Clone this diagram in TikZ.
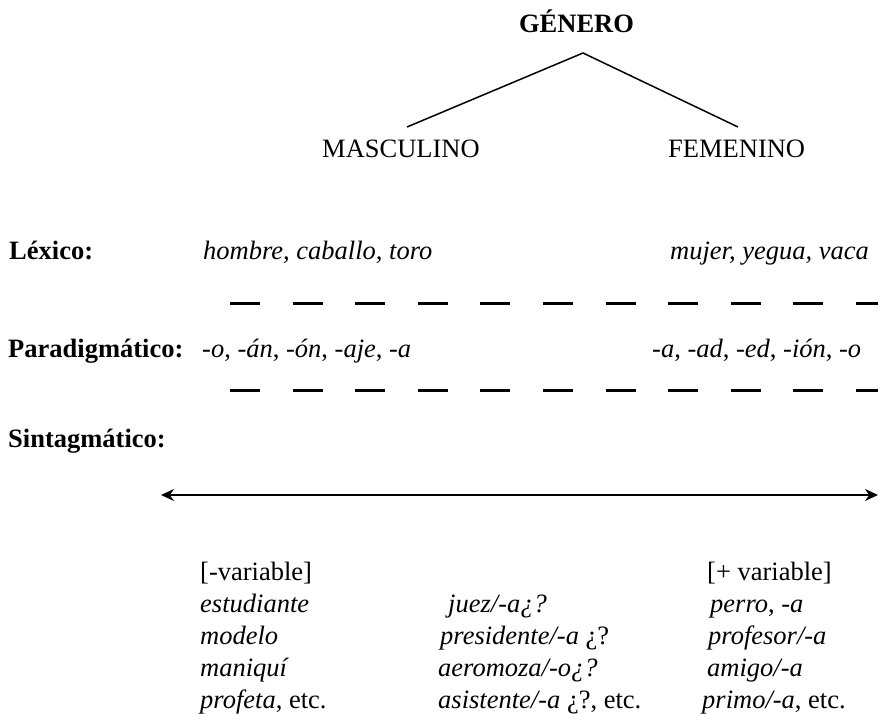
\documentclass[tikz,border=0pt]{standalone}
\usepackage{fontspec}
\setmainfont{Liberation Serif}[
    BoldFont={Liberation Serif Bold},
    ItalicFont={Liberation Serif Italic},
    BoldItalicFont={Liberation Serif Bold Italic}]
\usetikzlibrary{arrows.meta}

\begin{document}
\begin{tikzpicture}[x=1pt, y=-1pt]
\useasboundingbox (0,0) rectangle (878,714);
\begin{scope}[every node/.style={inner sep=0pt, anchor=base west, font=\fontsize{26.5}{30}\selectfont}]
    \node (genero) at (576.5, 33) [anchor=base] {\textbf{GÉNERO}};
    \node (masc) at (322, 158) {MASCULINO};
    \node (fem) at (668, 158) {FEMENINO};

    \node (lexico) at (9, 259) {\textbf{Léxico:}};
    \node (lexM) at (203, 259) {\textit{hombre, caballo, toro}};
    \node (lexF) at (670, 259) {\textit{mujer, yegua, vaca}};

    \node (parad) at (8, 357) {\textbf{Paradigmático:}};
    \node (parM) at (202, 357) {\textit{-o}, \textit{-án}, \textit{-ón}, \textit{-aje}, \textit{-a}};
    \node (parF) at (652, 357) {\textit{-a}, \textit{-ad}, \textit{-ed}, \textit{-ión}, \textit{-o}};

    \node (sintag) at (8, 447) {\textbf{Sintagmático:}};

    \node (menos) at (200, 580) {[-variable]};
    \node (mas) at (707, 580) {[+ variable]};

    \node (l1) at (200, 612) {\textit{estudiante}};
    \node (l2) at (200, 644) {\textit{modelo}};
    \node (l3) at (200, 676) {\textit{maniquí}};
    \node (l4) at (200, 708) {\textit{profeta}, etc.};

    \node (m1) at (448, 612) {\textit{juez/-a¿?}};
    \node (m2) at (440, 644) {\textit{presidente/-a} ¿?};
    \node (m3) at (438, 676) {\textit{aeromoza/-o¿?}};
    \node (m4) at (438, 708) {\textit{asistente/-a} ¿?, etc.};

    \node (r1) at (710, 612) {\textit{perro}, \textit{-a}};
    \node (r2) at (708, 644) {\textit{profesor/-a}};
    \node (r3) at (707, 676) {\textit{amigo/-a}};
    \node (r4) at (702, 708) {\textit{primo/-a}, etc.};
\end{scope}

% tree branches
\coordinate (apex) at (583, 53);
\coordinate (mascTop) at (407, 127);
\coordinate (femTop) at (738, 127);
\draw [line width=1.5pt] (mascTop) -- (apex) -- (femTop);

% dashed separators
\coordinate (sepA) at (230, 303);
\coordinate (sepAend) at (878, 303);
\coordinate (sepB) at (230, 390);
\coordinate (sepBend) at (878, 390);
\begin{scope}[line width=3pt, dash pattern=on 30pt off 32.6pt]
    \draw (sepA) -- (sepAend);
    \draw (sepB) -- (sepBend);
\end{scope}

% continuum
\coordinate (contL) at (161, 495);
\coordinate (contR) at (878, 495);
\draw [line width=1.8pt, {Stealth[length=13pt, width=12pt]}-{Stealth[length=13pt, width=12pt]}] (contL) -- (contR);
\end{tikzpicture}
\end{document}
